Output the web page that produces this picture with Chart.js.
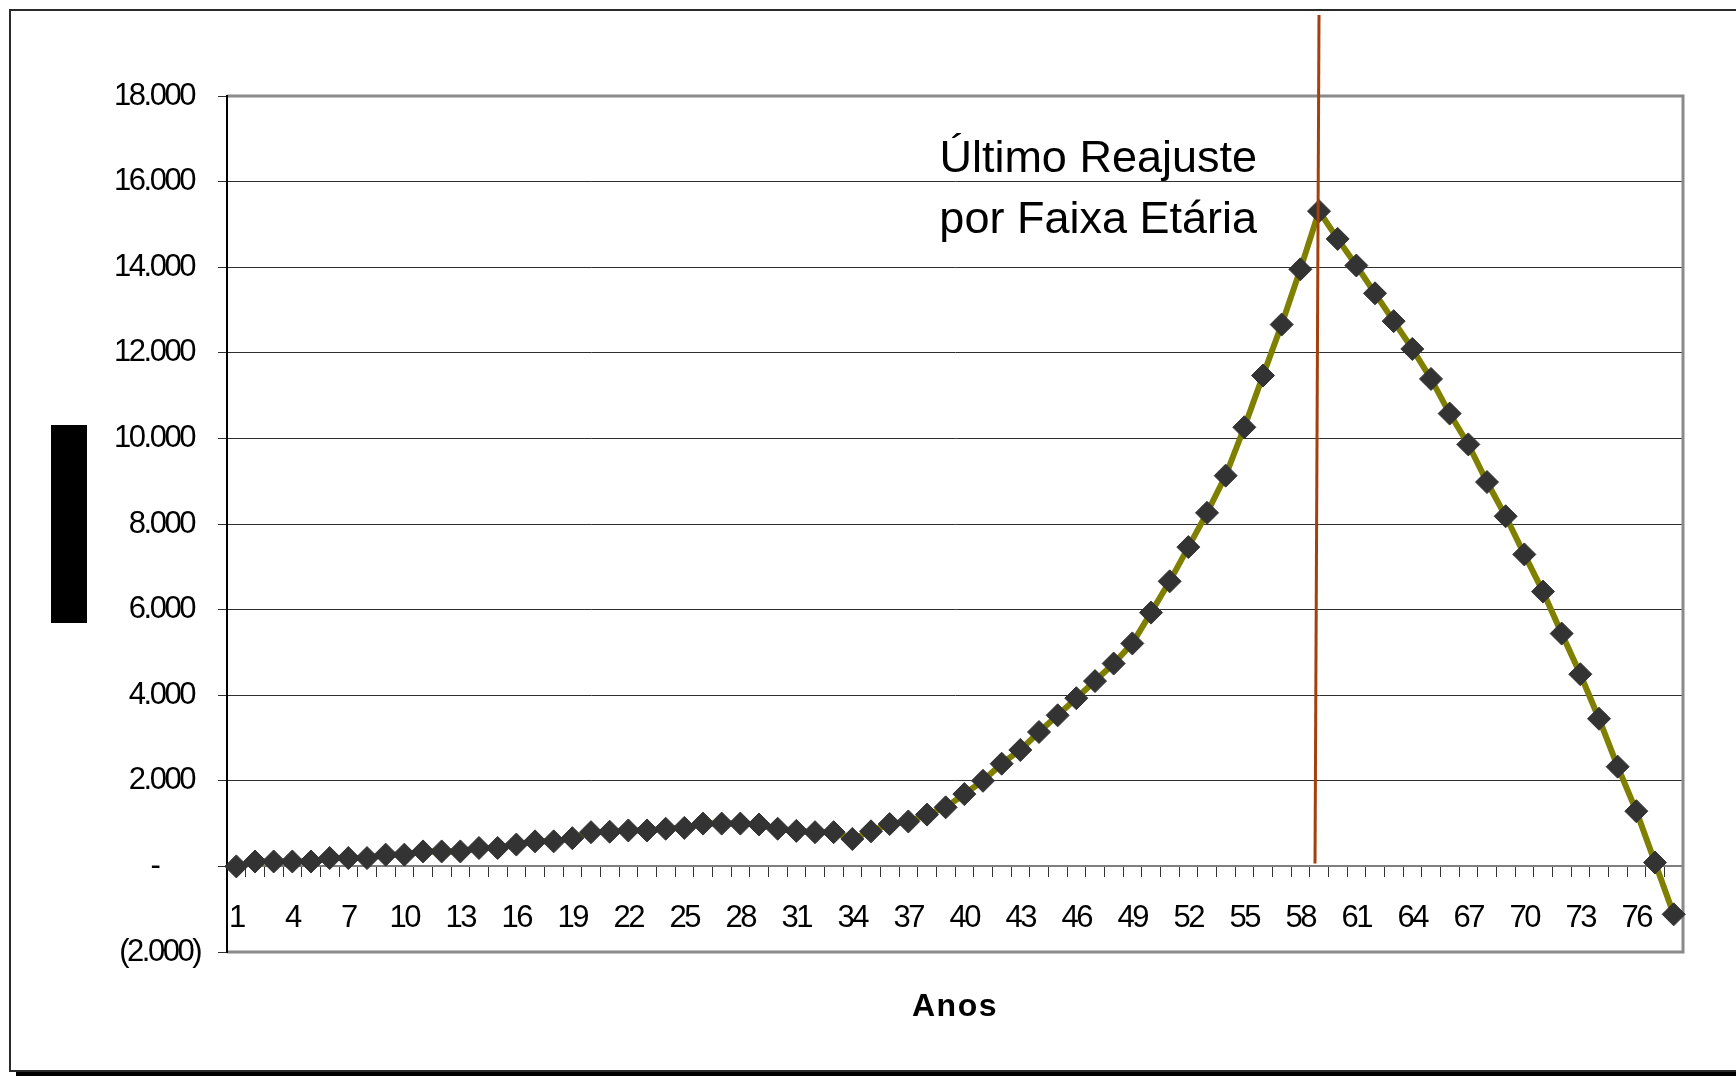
<!DOCTYPE html>
<html lang="pt-BR">
<head>
<meta charset="utf-8">
<title>Último Reajuste por Faixa Etária</title>
<script src="https://cdn.jsdelivr.net/npm/chart.js@4/dist/chart.umd.min.js"></script>
<style>
  html, body { margin: 0; padding: 0; background: #fff; }
  canvas { display: block; }
</style>
</head>
<body>
<canvas id="grafico" width="1736" height="1076"></canvas>
<script>
// Anos (categorias do eixo X)
const anos = ['1','2','3','4','5','6','7','8','9','10','11','12','13','14','15','16','17','18','19','20',
  '21','22','23','24','25','26','27','28','29','30','31','32','33','34','35','36','37','38','39','40',
  '41','42','43','44','45','46','47','48','49','50','51','52','53','54','55','56','57','58','59','60',
  '61','62','63','64','65','66','67','68','69','70','71','72','73','74','75','76','77','78'];

// Rótulos exibidos no eixo X
const rotulosX = ['1','4','7','10','13','16','19','22','25','28','31','34','37','40','43','46','49',
  '52','55','58','61','64','67','70','73','76'];

// Saldo acumulado por ano
const saldo = [
  0, 115, 115, 115, 115, 195, 195, 195, 275, 275,
  350, 350, 350, 430, 430, 510, 585, 585, 660, 800,
  810, 840, 840, 880, 900, 1000, 1000, 1000, 980, 880,
  830, 800, 800, 640, 820, 990, 1050, 1210, 1380, 1690,
  2000, 2400, 2720, 3140, 3530, 3930, 4330, 4740, 5210, 5930,
  6660, 7460, 8260, 9130, 10260, 11470, 12660, 13950, 15310, 14660,
  14040, 13390, 12740, 12090, 11390, 10580, 9860, 8980, 8180, 7290,
  6420, 5440, 4490, 3450, 2330, 1290, 90, -1120
];

// Marcas do eixo Y
const marcasY = [-2000, 0, 2000, 4000, 6000, 8000, 10000, 12000, 14000, 16000, 18000];

// Ano do último reajuste por faixa etária
const anoUltimoReajuste = '59';
const textoReajuste = ['Último Reajuste', 'por Faixa Etária'];
const tituloX = 'Anos';

const FONTE = "'Liberation Sans', Arial, sans-serif";

function formatarY(v) {
  const n = Math.abs(v).toString().replace(/\B(?=(\d{3})+(?!\d))/g, '.');
  if (v > 0) return n + ' ';
  if (v === 0) return '-\u2007\u2007  ';
  return '(' + n + ')';
}

const moldura = {
  id: 'moldura',
  beforeDraw(chart) {
    const { ctx, width } = chart;
    ctx.save();
    ctx.fillStyle = '#fff';
    ctx.fillRect(0, 0, chart.width, chart.height);
    // moldura externa
    ctx.strokeStyle = '#2a2a2a';
    ctx.lineWidth = 2;
    ctx.beginPath();
    ctx.moveTo(width, 10);
    ctx.lineTo(10, 10);
    ctx.lineTo(10, 1071);
    ctx.lineTo(width, 1071);
    ctx.stroke();
    ctx.fillStyle = '#000';
    ctx.fillRect(16, 1072, width - 16, 4);
    // bloco do título do eixo Y
    ctx.fillRect(51, 425, 36, 198);
    ctx.restore();
    // rótulos dos eixos com espaçamento comprimido
    ctx.letterSpacing = '-2.5px';
  },
  beforeDatasetsDraw(chart) {
    const { ctx, chartArea: a } = chart;
    ctx.letterSpacing = '0px';
    ctx.save();
    ctx.strokeStyle = '#8a8a8a';
    ctx.lineWidth = 3;
    ctx.beginPath();
    ctx.moveTo(a.left, a.top);
    ctx.lineTo(a.right, a.top);
    ctx.lineTo(a.right, a.bottom);
    ctx.lineTo(a.left, a.bottom);
    ctx.stroke();
    ctx.strokeStyle = '#000';
    ctx.lineWidth = 2;
    ctx.beginPath();
    ctx.moveTo(a.left, a.top - 1);
    ctx.lineTo(a.left, a.bottom + 1);
    ctx.stroke();
    ctx.restore();
  },
  afterDatasetsDraw(chart) {
    const { ctx, chartArea: a } = chart;
    const xs = chart.scales.x, ys = chart.scales.y;
    const px = xs.getPixelForValue(anos.indexOf(anoUltimoReajuste));
    const y0 = ys.getPixelForValue(0);
    ctx.save();
    ctx.strokeStyle = '#a3400e';
    ctx.lineWidth = 3;
    ctx.beginPath();
    ctx.moveTo(px, 15);
    ctx.lineTo(px - 4, y0 - 3);
    ctx.stroke();
    ctx.fillStyle = '#000';
    ctx.font = '45px ' + FONTE;
    ctx.textAlign = 'right';
    ctx.textBaseline = 'alphabetic';
    const base = ys.getPixelForValue(16000) - 10;
    ctx.fillText(textoReajuste[0], px - 62, base);
    ctx.fillText(textoReajuste[1], px - 62, base + 61);
    // título do eixo X
    ctx.font = 'bold 32px ' + FONTE;
    ctx.letterSpacing = '1.5px';
    ctx.textAlign = 'center';
    ctx.textBaseline = 'middle';
    ctx.fillText(tituloX, (a.left + a.right) / 2, a.bottom + 55);
    ctx.restore();
  }
};

new Chart(document.getElementById('grafico'), {
  type: 'line',
  data: {
    labels: anos,
    datasets: [{
      data: saldo,
      borderColor: '#808000',
      borderWidth: 6,
      tension: 0,
      pointStyle: 'rectRot',
      pointRadius: 11.5,
      pointBackgroundColor: '#333333',
      pointBorderColor: '#333333',
      pointBorderWidth: 1,
      clip: false
    }]
  },
  options: {
    responsive: false,
    animation: false,
    events: [],
    layout: { padding: { left: 0, right: 53, top: 96, bottom: 124 } },
    plugins: {
      legend: { display: false },
      tooltip: { enabled: false },
      title: { display: false }
    },
    scales: {
      x: {
        type: 'category',
        position: { y: 0 },
        offset: true,
        grid: { offset: true, drawOnChartArea: false, drawTicks: true, tickLength: 10, color: '#333', lineWidth: 1 },
        border: { display: true, color: '#7f7f7f', width: 2 },
        ticks: {
          autoSkip: false,
          maxRotation: 0,
          minRotation: 0,
          padding: 23,
          color: '#000',
          font: { family: FONTE, size: 31 },
          callback(v) {
            const l = this.getLabelForValue(v);
            return rotulosX.includes(l) ? l : '';
          }
        }
      },
      y: {
        min: -2000,
        max: 18000,
        afterFit(s) { s.width = 227; },
        afterBuildTicks(s) { s.ticks = marcasY.map(v => ({ value: v })); },
        grid: { color: '#2e2e2e', lineWidth: 1, tickLength: 9, drawTicks: true },
        border: { display: true, color: '#000', width: 2 },
        ticks: {
          padding: 18,
          color: '#000',
          font: { family: FONTE, size: 31 },
          callback: formatarY
        }
      }
    }
  },
  plugins: [moldura]
});
</script>
</body>
</html>
